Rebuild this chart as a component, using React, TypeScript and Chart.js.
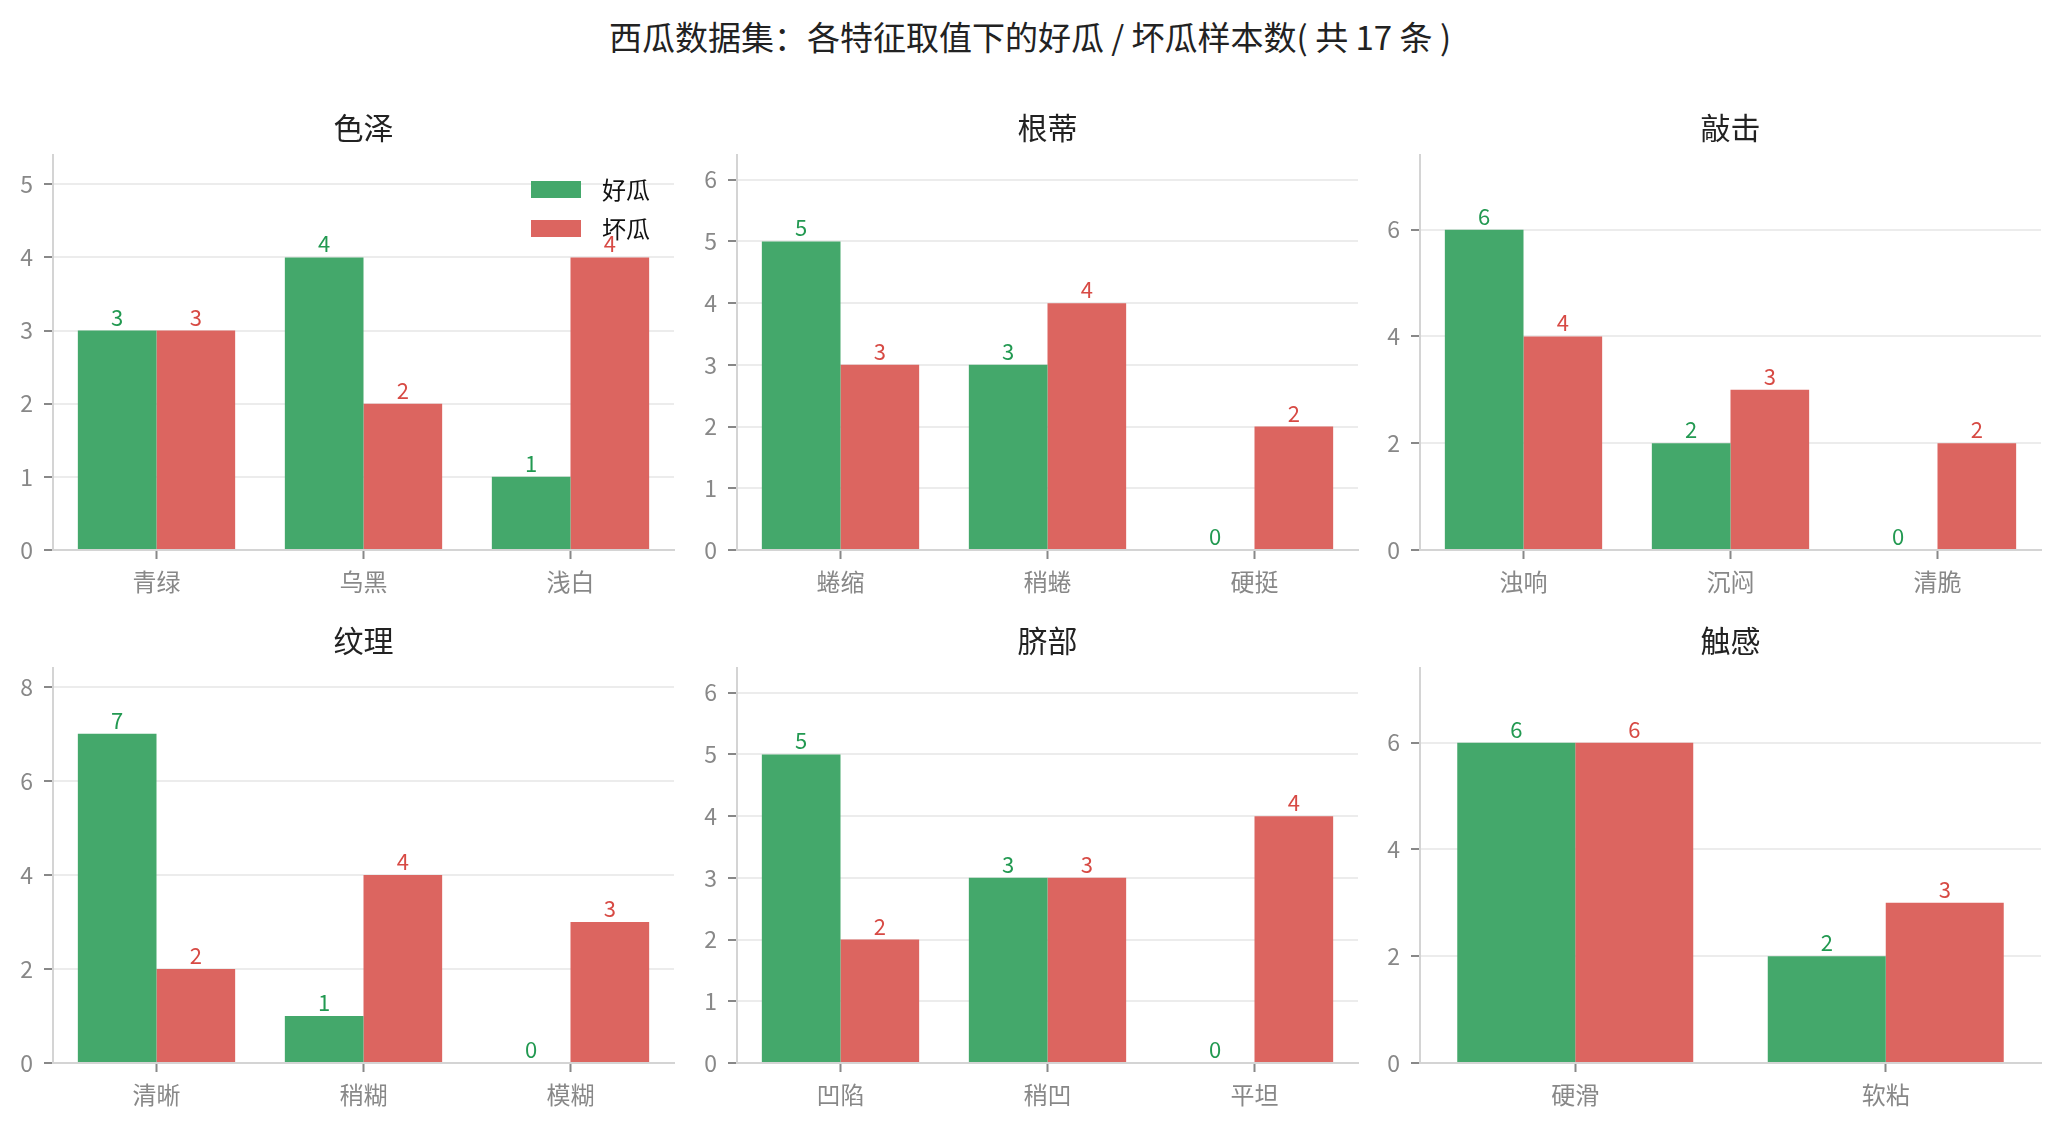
import React, { useEffect, useRef } from "react";
import { Chart, ChartConfiguration, Plugin, registerables } from "chart.js";

Chart.register(...registerables);

const FONT = '"Noto Sans CJK SC", "Noto Sans", sans-serif';
Chart.defaults.font.family = FONT;

const mainTitle = "西瓜数据集：各特征取值下的好瓜 / 坏瓜样本数( 共 17 条 )";
const seriesNames = ["好瓜", "坏瓜"];

// one entry per panel
const features = ["色泽", "根蒂", "敲击", "纹理", "脐部", "触感"];
const categories = [
  ["青绿", "乌黑", "浅白"],
  ["蜷缩", "稍蜷", "硬挺"],
  ["浊响", "沉闷", "清脆"],
  ["清晰", "稍糊", "模糊"],
  ["凹陷", "稍凹", "平坦"],
  ["硬滑", "软粘"],
];
const goodCounts = [
  [3, 4, 1],
  [5, 3, 0],
  [6, 2, 0],
  [7, 1, 0],
  [5, 3, 0],
  [6, 2],
];
const badCounts = [
  [3, 2, 4],
  [3, 4, 2],
  [4, 3, 2],
  [2, 4, 3],
  [2, 3, 4],
  [6, 3],
];
const tickSteps = [1, 1, 2, 2, 1, 2];

const barColors = ["#44a86b", "#dc6560"];
const labelColors = ["#229951", "#d74a44"];

// each bar is 0.38 of a category, two bars side by side
const BAR_W = 0.38;
const Y_AXIS_W = 50;
const X_AXIS_H = 60;
const TITLE_H = 45;
const PLOT_W = 621;
const PLOT_H = 395;
const colLefts = [53, 737, 1420];
const rowTops = [155, 668];

const valueLabels: Plugin<"bar"> = {
  id: "valueLabels",
  afterDatasetsDraw(chart) {
    const ctx = chart.ctx;
    ctx.save();
    ctx.font = `22px ${FONT}`;
    ctx.textAlign = "center";
    ctx.textBaseline = "alphabetic";
    chart.data.datasets.forEach((ds, di) => {
      const meta = chart.getDatasetMeta(di);
      ctx.fillStyle = labelColors[di];
      meta.data.forEach((bar, i) => {
        ctx.fillText(String(ds.data[i]), bar.x, bar.y - 5);
      });
    });
    ctx.restore();
  },
};

const insideLegend: Plugin<"bar"> = {
  id: "insideLegend",
  afterDraw(chart) {
    const { ctx, chartArea } = chart;
    ctx.save();
    ctx.font = `24px ${FONT}`;
    ctx.textAlign = "left";
    ctx.textBaseline = "middle";
    chart.data.datasets.forEach((ds, di) => {
      const x = chartArea.right - 143;
      const y = chartArea.top + 26 + di * 39;
      ctx.fillStyle = barColors[di];
      ctx.fillRect(x, y, 50, 17);
      ctx.fillStyle = "#111";
      ctx.fillText(ds.label ?? "", x + 71, y + 9);
    });
    ctx.restore();
  },
};

function configOf(idx: number): ChartConfiguration<"bar"> {
  const yMax = Math.max(...goodCounts[idx], ...badCounts[idx]) + 1.4;
  const series = [goodCounts[idx], badCounts[idx]];

  return {
    type: "bar",
    data: {
      labels: categories[idx],
      datasets: series.map((values, si) => ({
        label: seriesNames[si],
        data: values,
        backgroundColor: barColors[si],
        borderWidth: 0,
        categoryPercentage: 2 * BAR_W,
        barPercentage: 1,
      })),
    },
    options: {
      responsive: false,
      animation: false,
      events: [],
      layout: { padding: { left: 0, right: 10, top: 0, bottom: 0 } },
      scales: {
        x: {
          type: "category",
          offset: true,
          ticks: {
            autoSkip: false,
            maxRotation: 0,
            padding: 8,
            color: "#888",
            font: { size: 24 },
          },
          grid: {
            offset: false,
            drawOnChartArea: false,
            tickLength: 9,
            tickColor: "#888",
            tickWidth: 2,
          },
          border: { color: "#d4d4d4", width: 2 },
          afterFit: (scale) => { scale.height = X_AXIS_H; },
        },
        y: {
          min: 0,
          max: yMax,
          bounds: "data",
          ticks: {
            stepSize: tickSteps[idx],
            includeBounds: false,
            padding: 11,
            color: "#888",
            font: { size: 23 },
          },
          grid: {
            color: "#ececec",
            lineWidth: 2,
            tickLength: 9,
            tickColor: "#888",
            tickWidth: 2,
          },
          border: { color: "#d4d4d4", width: 2 },
          afterFit: (scale) => { scale.width = Y_AXIS_W; },
        },
      },
      plugins: {
        legend: { display: false },
        tooltip: { enabled: false },
        title: {
          display: true,
          text: features[idx],
          fullSize: false,
          color: "#222",
          font: { size: 30, weight: "normal" },
          padding: { top: 0, bottom: TITLE_H - 36 },
        },
      },
    },
    plugins: idx === 0 ? [valueLabels, insideLegend] : [valueLabels],
  };
}

const Panel = ({ idx }: { idx: number }) => {
  const canvas = useRef<HTMLCanvasElement>(null);
  useEffect(() => {
    const ctx = canvas.current?.getContext("2d");
    const chart = ctx ? new Chart(ctx, configOf(idx)) : null;
    return () => chart?.destroy();
  }, [idx]);

  const width = Y_AXIS_W + PLOT_W + 10;
  const height = TITLE_H + PLOT_H + X_AXIS_H;
  const left = colLefts[idx % 3] - Y_AXIS_W;
  const top = rowTops[Math.floor(idx / 3)] - TITLE_H;
  return (
    <canvas ref={canvas} width={width} height={height}
      style={{ position: "absolute", left, top, width, height }} />
  );
};

export default function App() {
  return (
    <div style={{
      position: "absolute", left: 0, top: 0, width: 2060, height: 1130,
      background: "#fff", overflow: "hidden", fontFamily: FONT,
    }}>
      <div style={{
        position: "absolute", left: 0, top: 16, width: 2060,
        textAlign: "center", fontSize: 33, lineHeight: "40px", color: "#222",
      }}>
        {mainTitle}
      </div>
      {features.map((f, idx) => <Panel key={f} idx={idx} />)}
    </div>
  );
}
